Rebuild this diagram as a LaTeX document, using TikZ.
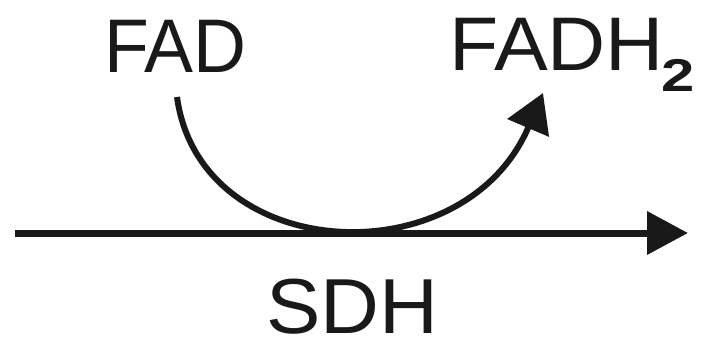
\documentclass[tikz,border=0pt]{standalone}
\usepackage{fontspec}
\setmainfont{Liberation Sans}
\usetikzlibrary{arrows.meta}
\begin{document}
\begin{tikzpicture}[x=1pt,y=-1pt,
  lbl/.style={inner sep=0pt,anchor=base west,text=black!90},
  mainline/.style={line width=7pt,draw=black!90,-{Triangle[length=41pt,width=42pt]}},
  curvearrow/.style={line width=6pt,draw=black!90,-{Triangle[length=38pt,width=44pt]}}]
\useasboundingbox (0,0) rectangle (703,341);
\node[lbl] (fad) at (104,72) {\scalebox{0.965}[1]{\fontsize{76}{80}\selectfont FAD}};
\node[lbl] (fadh) at (449,70) {\scalebox{1.06}[1]{\fontsize{76}{80}\selectfont FADH}\hspace{-3pt}\raisebox{-21pt}{\scalebox{1.3}[1]{\fontsize{46}{48}\selectfont\bfseries 2}}};
\node[lbl] (sdh) at (266,333) {\scalebox{1.045}[1]{\fontsize{78}{80}\selectfont SDH}};
\coordinate (lstart) at (15,233);
\coordinate (lend) at (688,233);
\coordinate (cstart) at (177,97);
\coordinate (cend) at (543,93);
\draw[mainline] (lstart) -- (lend);
\draw[curvearrow] (cstart) .. controls (200,265) and (464,278) .. (cend);
\end{tikzpicture}
\end{document}
